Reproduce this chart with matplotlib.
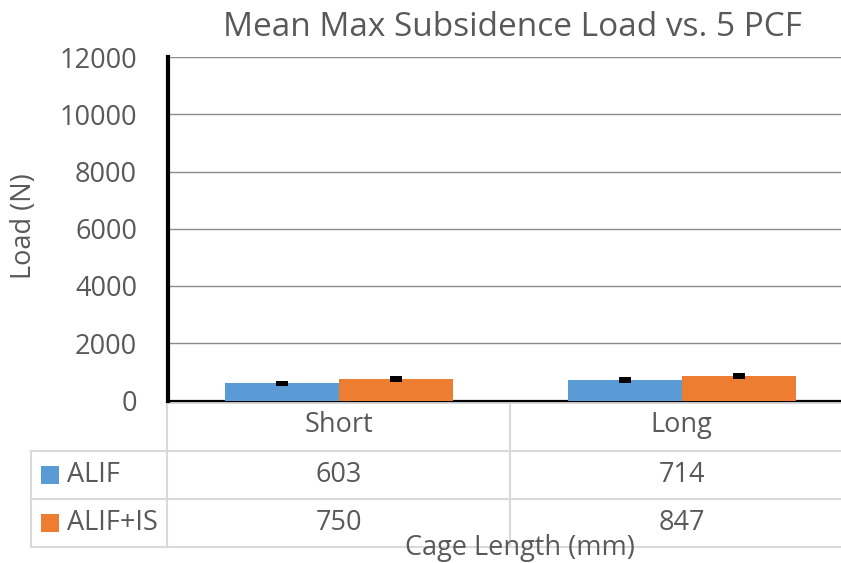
import matplotlib
matplotlib.use("Agg")
import matplotlib.pyplot as plt
import numpy as np

# === Data ===
categories = ["Short", "Long"]
series_names = ["ALIF", "ALIF+IS"]
alif = [603, 714]
alif_is = [750, 847]
alif_err = [90, 90]
alif_is_err = [100, 100]
y_ticks = [0, 2000, 4000, 6000, 8000, 10000, 12000]

blue = "#5B9BD5"
orange = "#ED7D31"
text_col = "#595959"
grid_col = "#8C8C8C"
table_col = "#D9D9D9"

plt.rcParams["font.family"] = ["Open Sans", "DejaVu Sans"]

W, H = 841, 563
fig = plt.figure(figsize=(W / 100, H / 100), dpi=100)

# overlay in pixel coords for table and labels
ov = fig.add_axes([0, 0, 1, 1], zorder=0)
ov.set_xlim(0, W)
ov.set_ylim(H, 0)
ov.axis("off")

# main axes (right edge runs past the image, like the original)
left_px, right_px, top_px, bot_px = 167.5, 853.5, 57, 400.5
ax = fig.add_axes([left_px / W, (H - bot_px) / H, (right_px - left_px) / W, (bot_px - top_px) / H], zorder=2)
ax.patch.set_alpha(0)

x = np.arange(len(categories))
w = 0.332
ax.bar(x - w / 2, alif, w, color=blue, zorder=3)
ax.bar(x + w / 2, alif_is, w, color=orange, zorder=3)
for xs, vals, errs in [(x - w / 2, alif, alif_err), (x + w / 2, alif_is, alif_is_err)]:
    eb = ax.errorbar(xs, vals, yerr=errs, fmt="none", ecolor="black", elinewidth=8.6, capsize=0, zorder=4)
    eb[2][0].set_capstyle("butt")

ax.set_xlim(-0.5, 1.5)
ax.set_ylim(0, 12000)
ax.set_yticks(y_ticks)
ax.set_xticks([])
ax.tick_params(axis="y", length=0, pad=22, labelsize=19.5, labelcolor=text_col)
ax.yaxis.grid(True, color=grid_col, linewidth=1.0, zorder=0)
ax.set_axisbelow(True)
for s in ["top", "right"]:
    ax.spines[s].set_visible(False)
ax.spines["left"].set_linewidth(3.0)
ax.spines["left"].set_color("black")
ax.spines["bottom"].set_linewidth(1.6)
ax.spines["bottom"].set_color("black")

# title and axis labels
ov.text(513, 28, "Mean Max Subsidence Load vs. 5 PCF", ha="center", va="center", fontsize=24, color=text_col)
ov.text(24, 226, "Load (N)", ha="center", va="center", rotation=90, fontsize=19.5, color=text_col)

# data table
col_x = [167.5, 510, 853.5]
row_y = [403, 451, 499, 547]
lw = 1.5
ov.plot([col_x[0], W], [row_y[0], row_y[0]], color=table_col, lw=lw)
for yy in row_y[1:]:
    ov.plot([31, W], [yy, yy], color=table_col, lw=lw)
ov.plot([31, 31], [row_y[1], row_y[3]], color=table_col, lw=lw)
for xx in col_x[:2]:
    ov.plot([xx, xx], [row_y[0], row_y[3]], color=table_col, lw=lw)

centers = [(col_x[0] + col_x[1]) / 2, (col_x[1] + col_x[2]) / 2]
for cx, cat in zip(centers, categories):
    ov.text(cx, 425, cat, ha="center", va="center", fontsize=19.5, color=text_col)

for r, (name, vals, col) in enumerate(zip(series_names, [alif, alif_is], [blue, orange])):
    cy = (row_y[r + 1] + row_y[r + 2]) / 2
    ov.add_patch(plt.Rectangle((41, cy - 9), 18, 18, color=col, lw=0))
    ov.text(67, cy, name, ha="left", va="center", fontsize=19.5, color=text_col)
    for cx, v in zip(centers, vals):
        ov.text(cx, cy, f"{v}", ha="center", va="center", fontsize=19.5, color=text_col)

ov.text(520, 548, "Cage Length (mm)", ha="center", va="center", fontsize=19.5, color=text_col)

fig.savefig("out.png", dpi=100)
